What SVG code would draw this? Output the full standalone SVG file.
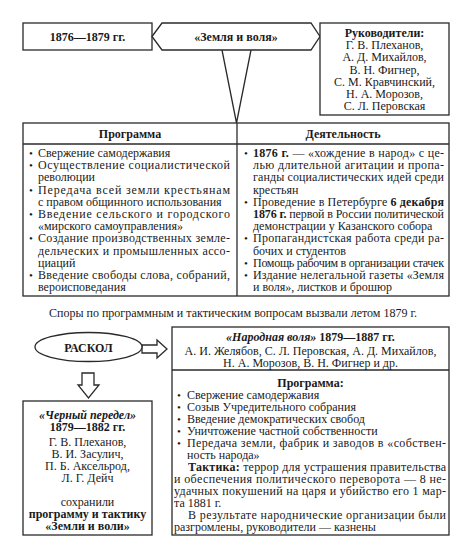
<svg xmlns="http://www.w3.org/2000/svg" width="474" height="558" viewBox="0 0 474 558">
<style>
text{font-family:"Liberation Serif","Times New Roman",serif;font-size:12px;fill:#1a1a1a}
.b{font-weight:bold}
.bi{font-weight:bold;font-style:italic}
.c{text-anchor:middle}
.box{fill:#fff;stroke:#2a2a2a;stroke-width:1.3}
.ln{fill:none;stroke:#2a2a2a;stroke-width:1.3}
.dot{font-size:11px}
</style>
<rect width="474" height="558" fill="#fff"/>

<g id="connectors">
<polyline class="ln" points="222,50 236.5,123 251,50"/>
<polygon class="box" points="142,345 157,345 157,340 167,349 157,358 157,353 142,353"/>
<polygon class="box" points="82,373 94,373 94,385 99,385 88.5,398 78,385 82,385"/>
</g>

<g id="node-date">
<rect class="box" x="23" y="23" width="129" height="27"/>
<text class="b c" x="87.5" y="41">1876—1879 гг.</text>
</g>

<g id="node-zemlya">
<polygon class="box" points="152,36.5 162,23 311,23 320,36.5 311,50 162,50"/>
<text class="b c" x="236" y="41">«Земля и воля»</text>
</g>

<g id="node-leaders">
<rect class="box" x="320" y="23" width="129" height="92"/>
<text class="b c" x="384.5" y="37">Руководители:</text>
<text class="c" x="384.5" y="49.2">Г. В. Плеханов,</text>
<text class="c" x="384.5" y="61.4">А. Д. Михайлов,</text>
<text class="c" x="384.5" y="73.6">В. Н. Фигнер,</text>
<text class="c" x="384.5" y="85.8">С. М. Кравчинский,</text>
<text class="c" x="384.5" y="98">Н. А. Морозов,</text>
<text class="c" x="384.5" y="110.2">С. Л. Перовская</text>
</g>

<g id="node-table">
<rect class="box" x="23" y="123" width="426" height="173"/>
<line class="ln" x1="23" y1="144" x2="449" y2="144"/>
<line class="ln" x1="237" y1="123" x2="237" y2="296"/>
<text class="b c" x="130" y="138">Программа</text>
<text class="b c" x="343" y="138">Деятельность</text>

<g id="program-list">
<text class="dot" x="29" y="157">•</text>
<text x="38" y="157">Свержение самодержавия</text>
<text class="dot" x="29" y="169.2">•</text>
<text x="38" y="169.2" textLength="192" lengthAdjust="spacing">Осуществление социалистической</text>
<text x="38" y="181.4">революции</text>
<text class="dot" x="29" y="193.6">•</text>
<text x="38" y="193.6" textLength="192" lengthAdjust="spacing">Передача всей земли крестьянам</text>
<text x="38" y="205.8">с правом общинного использования</text>
<text class="dot" x="29" y="218">•</text>
<text x="38" y="218" textLength="192" lengthAdjust="spacing">Введение сельского и городского</text>
<text x="38" y="230.2">«мирского самоуправления»</text>
<text class="dot" x="29" y="242.4">•</text>
<text x="38" y="242.4" textLength="192" lengthAdjust="spacing">Создание производственных земле-</text>
<text x="38" y="254.6" textLength="192" lengthAdjust="spacing">дельческих и промышленных ассо-</text>
<text x="38" y="266.8">циаций</text>
<text class="dot" x="29" y="279">•</text>
<text x="38" y="279" textLength="192" lengthAdjust="spacing">Введение свободы слова, собраний,</text>
<text x="38" y="291.2">вероисповедания</text>
</g>

<g id="activity-list">
<text class="dot" x="244" y="157">•</text>
<text x="253" y="157" textLength="191" lengthAdjust="spacing"><tspan class="b">1876 г.</tspan> — «хождение в народ» с це-</text>
<text x="253" y="169.2" textLength="191" lengthAdjust="spacing">лью длительной агитации и пропа-</text>
<text x="253" y="181.4" textLength="191" lengthAdjust="spacing">ганды социалистических идей среди</text>
<text x="253" y="193.6">крестьян</text>
<text class="dot" x="244" y="205.8">•</text>
<text x="253" y="205.8" textLength="191" lengthAdjust="spacing">Проведение в Петербурге <tspan class="b">6 декабря</tspan></text>
<text x="253" y="218" textLength="191" lengthAdjust="spacing"><tspan class="b">1876 г.</tspan> первой в России политической</text>
<text x="253" y="230.2">демонстрации у Казанского собора</text>
<text class="dot" x="244" y="242.4">•</text>
<text x="253" y="242.4" textLength="191" lengthAdjust="spacing">Пропагандистская работа среди ра-</text>
<text x="253" y="254.6">бочих и студентов</text>
<text class="dot" x="244" y="266.8">•</text>
<text x="253" y="266.8" textLength="191" lengthAdjust="spacing">Помощь рабочим в организации стачек</text>
<text class="dot" x="244" y="279">•</text>
<text x="253" y="279" textLength="191" lengthAdjust="spacing">Издание нелегальной газеты «Земля</text>
<text x="253" y="291.2">и воля», листков и брошюр</text>
</g>
</g>

<g id="caption">
<text class="c" x="233" y="317">Споры по программным и тактическим вопросам вызвали летом 1879 г.</text>
</g>

<g id="node-raskol">
<ellipse class="box" cx="88.5" cy="347" rx="53.5" ry="14.5"/>
<text class="b c" x="88.5" y="351.5">РАСКОЛ</text>
</g>

<g id="node-narodnaya">
<rect class="box" x="172" y="327" width="277" height="208"/>
<line class="ln" x1="172" y1="370" x2="449" y2="370"/>
<text class="c" x="310.5" y="341"><tspan class="bi">«Народная воля»</tspan><tspan class="b"> 1879—1887 гг.</tspan></text>
<text class="c" x="310.5" y="354.5">А. И. Желябов, С. Л. Перовская, А. Д. Михайлов,</text>
<text class="c" x="310.5" y="366.5">Н. А. Морозов, В. Н. Фигнер и др.</text>
<text class="b c" x="310.5" y="387">Программа:</text>
<text class="dot" x="177" y="399">•</text>
<text x="187" y="399">Свержение самодержавия</text>
<text class="dot" x="177" y="411">•</text>
<text x="187" y="411">Созыв Учредительного собрания</text>
<text class="dot" x="177" y="423">•</text>
<text x="187" y="423">Введение демократических свобод</text>
<text class="dot" x="177" y="435">•</text>
<text x="187" y="435">Уничтожение частной собственности</text>
<text class="dot" x="177" y="447">•</text>
<text x="187" y="447" textLength="259" lengthAdjust="spacing">Передача земли, фабрик и заводов в «собствен-</text>
<text x="187" y="459">ность народа»</text>
<text x="188" y="471" textLength="258" lengthAdjust="spacing"><tspan class="b">Тактика:</tspan> террор для устрашения правительства</text>
<text x="174" y="483" textLength="272" lengthAdjust="spacing">и обеспечения политического переворота — 8 не-</text>
<text x="174" y="495" textLength="272" lengthAdjust="spacing">удачных покушений на царя и убийство его 1 мар-</text>
<text x="174" y="507">та 1881 г.</text>
<text x="188" y="519" textLength="258" lengthAdjust="spacing">В результате народнические организации были</text>
<text x="174" y="531">разгромлены, руководители — казнены</text>
</g>

<g id="node-cherny">
<rect class="box" x="23" y="401" width="129" height="134"/>
<text class="bi c" x="87.5" y="419">«Черный передел»</text>
<text class="b c" x="87.5" y="431">1879—1882 гг.</text>
<text class="c" x="87.5" y="446">Г. В. Плеханов,</text>
<text class="c" x="87.5" y="458">В. И. Засулич,</text>
<text class="c" x="87.5" y="470">П. Б. Аксельрод,</text>
<text class="c" x="87.5" y="482">Л. Г. Дейч</text>
<text class="c" x="87.5" y="506">сохранили</text>
<text class="b c" x="87.5" y="518">программу и тактику</text>
<text class="b c" x="87.5" y="530">«Земли и воли»</text>
</g>
</svg>
